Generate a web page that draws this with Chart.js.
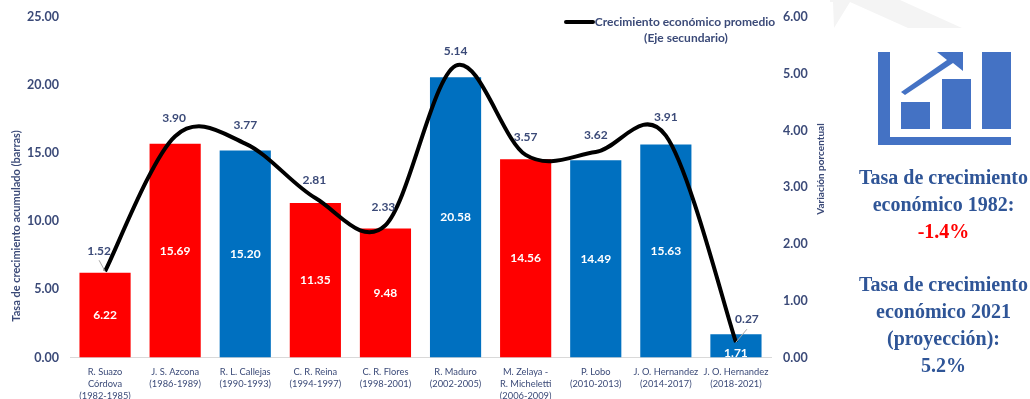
<!DOCTYPE html>
<html>
<head>
<meta charset="utf-8">
<script src="https://cdn.jsdelivr.net/npm/chart.js@4"></script>
<style>
  html, body { margin: 0; padding: 0; background: #fff; width: 1030px; height: 399px; overflow: hidden; }
  #myChart { position: absolute; left: 0; top: 0; }
  #icon { position: absolute; left: 0; top: 0; }
  .side { position: absolute; left: 856px; width: 175px; text-align: center; white-space: nowrap;
          font: bold 20px "Liberation Serif", serif; color: #2f5597; line-height: 27px; }
  .side .neg { color: #ff0000; }
</style>
</head>
<body>
<canvas id="myChart" width="830" height="399"></canvas>
<svg id="icon" width="1030" height="399" fill="#4472c4">
  <!-- faint watermark left over at the top of the original -->
  <polygon fill="#f4f4f4" points="830,0 900,0 962,28 908,28 850,2 834,28 833,2 830,2"/>
  <polygon points="878,52 890,52 890,137 1011,137 1011,145 878,145"/>
  <rect x="901" y="102" width="29" height="27"/>
  <rect x="942" y="79" width="29" height="50"/>
  <rect x="982" y="52" width="29" height="77"/>
  <polygon points="937,52 963,52 963,71 953,63 905,95 901,92 947,60"/>
</svg>
<div class="side" style="top:164px">Tasa de crecimiento<br>económico 1982:<br><span class="neg">-1.4%</span></div>
<div class="side" style="top:271px">Tasa de crecimiento<br>económico 2021<br>(proyección):<br>5.2%</div>

<script>
// Data
const categories = [
    ['R. Suazo', 'Córdova', '(1982-1985)'],
    ['J. S. Azcona', '(1986-1989)'],
    ['R. L. Callejas', '(1990-1993)'],
    ['C. R. Reina', '(1994-1997)'],
    ['C. R. Flores', '(1998-2001)'],
    ['R. Maduro', '(2002-2005)'],
    ['M. Zelaya -', 'R. Micheletti', '(2006-2009)'],
    ['P. Lobo', '(2010-2013)'],
    ['J. O. Hernandez', '(2014-2017)'],
    ['J. O. Hernandez', '(2018-2021)']
];
const acumulado = [6.22, 15.69, 15.20, 11.35, 9.48, 20.58, 14.56, 14.49, 15.63, 1.71];
const promedio = [1.52, 3.90, 3.77, 2.81, 2.33, 5.14, 3.57, 3.62, 3.91, 0.27];
const barColors = ['#ff0000', '#ff0000', '#0070c0', '#ff0000', '#ff0000', '#0070c0', '#ff0000', '#0070c0', '#0070c0', '#0070c0'];

const textColor = '#3b4a78';
const fontName = 'Lato, sans-serif';

// Excel style smooth line: even handles on every point instead of Chart.js' distance weighted ones
const excelSmooth = {
    id: 'excelSmooth',
    afterDatasetsUpdate(chart) {
        const meta = chart.getDatasetMeta(0);
        const pts = meta.data;
        meta.dataset.updateControlPoints(chart.chartArea);
        pts.forEach((pt, i) => {
            const prev = pts[Math.max(i - 1, 0)];
            const next = pts[Math.min(i + 1, pts.length - 1)];
            const dx = (next.x - prev.x) / 6;
            const dy = (next.y - prev.y) / 6;
            pt.cp1x = pt.x - dx;
            pt.cp1y = pt.y - dy;
            pt.cp2x = pt.x + dx;
            pt.cp2y = pt.y + dy;
        });
    }
};

// Draws value labels, leader lines, axis titles and the legend
const chartText = {
    id: 'chartText',
    afterDatasetsDraw(chart) {
        const ctx = chart.ctx;
        const area = chart.chartArea;
        const bars = chart.getDatasetMeta(1).data;
        const points = chart.getDatasetMeta(0).data;
        ctx.save();
        ctx.textAlign = 'center';
        ctx.textBaseline = 'middle';

        // bar labels, clipped at the axis like the original
        ctx.save();
        ctx.beginPath();
        ctx.rect(area.left, area.top, area.width, area.height);
        ctx.clip();
        ctx.fillStyle = '#fff';
        ctx.font = 'bold 12px ' + fontName;
        bars.forEach((bar, i) => {
            let y = (bar.y + bar.base) / 2;
            if (acumulado[i] < 3) y = bar.base - 4;
            ctx.fillText(acumulado[i].toFixed(2), bar.x, y);
        });
        ctx.restore();

        // gray leader lines on the first and last point
        ctx.strokeStyle = '#a6a6a6';
        ctx.lineWidth = 1;
        ctx.beginPath();
        ctx.moveTo(points[0].x - 6, points[0].y - 11);
        ctx.lineTo(points[0].x, points[0].y);
        ctx.moveTo(points[9].x + 11, points[9].y - 13);
        ctx.lineTo(points[9].x, points[9].y);
        ctx.stroke();

        // line labels
        ctx.fillStyle = textColor;
        ctx.font = 'bold 12px ' + fontName;
        const labelShift = [[-6, -20], [-1, -18], [0, -18], [-1, -18], [-2, -18], [0, -15], [0, -18], [0, -17], [0, -18], [11, -23]];
        points.forEach((pt, i) => {
            ctx.fillText(promedio[i].toFixed(2), pt.x + labelShift[i][0], pt.y + labelShift[i][1]);
        });

        // axis titles
        ctx.font = 'bold 11px ' + fontName;
        ctx.save();
        ctx.translate(16, 226);
        ctx.rotate(-Math.PI / 2);
        ctx.fillText('Tasa de crecimiento acumulado (barras)', 0, 0);
        ctx.restore();
        ctx.save();
        ctx.translate(821, 169);
        ctx.rotate(-Math.PI / 2);
        ctx.font = 'bold 10px ' + fontName;
        ctx.fillText('Variación porcentual', 0, 0);
        ctx.restore();

        // legend
        ctx.strokeStyle = '#000';
        ctx.lineWidth = 4;
        ctx.lineCap = 'round';
        ctx.beginPath();
        ctx.moveTo(566, 22);
        ctx.lineTo(593, 22);
        ctx.stroke();
        ctx.font = 'bold 12px ' + fontName;
        ctx.fillText('Crecimiento económico promedio', 685, 22);
        ctx.fillText('(Eje secundario)', 686, 38);
        ctx.restore();
    }
};

const ctx = document.getElementById('myChart').getContext('2d');
const chart = new Chart(ctx, {
    type: 'bar',
    data: {
        labels: categories,
        datasets: [{
            type: 'line',
            label: 'Crecimiento económico promedio',
            data: promedio,
            yAxisID: 'y1',
            borderColor: '#000',
            borderWidth: 4,
            pointRadius: 0,
            tension: 0.5,
            order: 0
        }, {
            label: 'Tasa de crecimiento acumulado',
            data: acumulado,
            yAxisID: 'y',
            backgroundColor: barColors,
            barPercentage: 0.73,
            categoryPercentage: 1,
            order: 1
        }]
    },
    plugins: [excelSmooth, chartText],
    options: {
        responsive: false,
        animation: false,
        layout: { padding: { top: 17 } },
        plugins: { legend: { display: false }, tooltip: { enabled: false } },
        scales: {
            x: {
                grid: { display: false },
                border: { color: '#d9d9d9', width: 1 },
                afterFit(scale) { scale.height = 41.5; },
                ticks: {
                    color: textColor,
                    maxRotation: 0,
                    autoSkip: false,
                    padding: 0,
                    font: { family: fontName, size: 9.3, lineHeight: 1.3 }
                }
            },
            y: {
                min: 0,
                max: 25,
                grid: { display: false },
                border: { display: false },
                afterFit(scale) { scale.width = 70; },
                ticks: {
                    stepSize: 5,
                    color: textColor,
                    padding: 3,
                    font: { family: fontName, size: 12.5, weight: 'bold' },
                    callback: v => v.toFixed(2)
                }
            },
            y1: {
                position: 'right',
                min: 0,
                max: 6,
                grid: { display: false },
                border: { display: false },
                afterFit(scale) { scale.width = 59; },
                ticks: {
                    stepSize: 1,
                    color: textColor,
                    padding: 4,
                    font: { family: fontName, size: 12.5, weight: 'bold' },
                    callback: v => v.toFixed(2)
                }
            }
        }
    }
});
</script>
</body>
</html>
